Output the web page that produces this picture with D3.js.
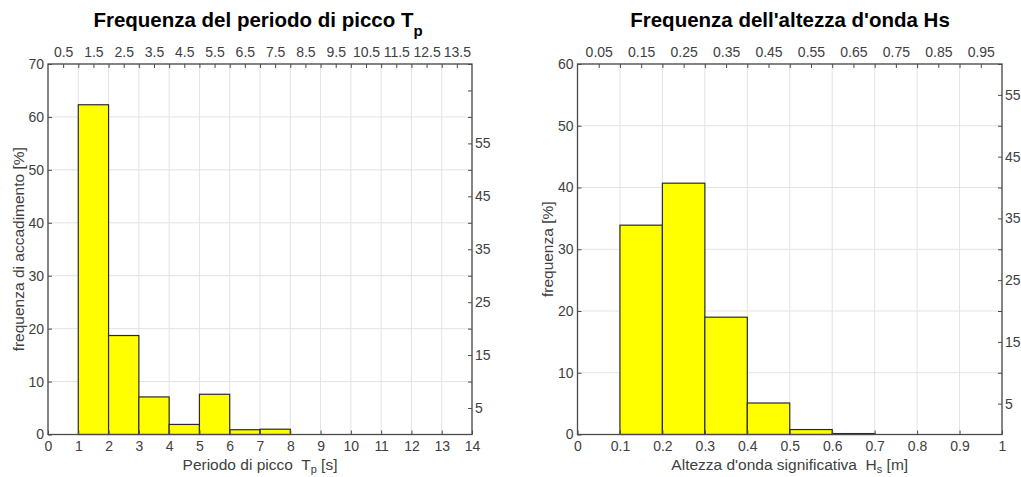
<!DOCTYPE html>
<html>
<head>
<meta charset="utf-8">
<title>Frequenze Tp e Hs</title>
<script src="https://d3js.org/d3.v7.min.js"></script>
<style>
  body { margin: 0; background: #fff; }
  text { font-family: Arial, "Liberation Sans", sans-serif; white-space: pre; }
  .tick text { fill: #404040; font-size: 14px; }
</style>
</head>
<body>
<script>
// ---- data ----
var tpEdges = [1, 2, 3, 4, 5, 6, 7, 8];
var tpFreq = [62.3, 18.7, 7.1, 1.9, 7.6, 0.9, 1.0];
var tpBottomTicks = d3.range(0, 15, 1);
var tpTopLabels = [0.5, 1.5, 2.5, 3.5, 4.5, 5.5, 6.5, 7.5, 8.5, 9.5, 10.5, 11.5, 12.5, 13.5];

var hsEdges = [0.1, 0.2, 0.3, 0.4, 0.5, 0.6, 0.7];
var hsFreq = [33.9, 40.7, 19.0, 5.1, 0.8, 0.15];
var hsBottomTicks = [0, 0.1, 0.2, 0.3, 0.4, 0.5, 0.6, 0.7, 0.8, 0.9, 1];
var hsTopLabels = [0.05, 0.15, 0.25, 0.35, 0.45, 0.55, 0.65, 0.75, 0.85, 0.95];

var rightLabels = [5, 15, 25, 35, 45, 55];

var W = 1021, H = 477;
var svg = d3.select("body").append("svg").attr("width", W).attr("height", H);

var axisCol = "#4a4a4a", gridCol = "#e3e3e3";

function panel(opt) {
  var x = d3.scaleLinear().domain(opt.xDomain).range([opt.left, opt.right]);
  var y = d3.scaleLinear().domain(opt.yDomain).range([opt.bottom, opt.top]);
  var g = svg.append("g");

  // grid
  g.selectAll(".gx").data(opt.xTicks).enter().append("line")
    .attr("x1", function(d) { return x(d); }).attr("x2", function(d) { return x(d); })
    .attr("y1", opt.top).attr("y2", opt.bottom)
    .attr("stroke", gridCol).attr("stroke-width", 1);
  g.selectAll(".gy").data(opt.yTicks).enter().append("line")
    .attr("y1", function(d) { return y(d); }).attr("y2", function(d) { return y(d); })
    .attr("x1", opt.left).attr("x2", opt.right)
    .attr("stroke", gridCol).attr("stroke-width", 1);

  // bars
  var bins = opt.freq.map(function(v, i) { return { x0: opt.edges[i], x1: opt.edges[i + 1], v: v }; });
  g.selectAll(".bar").data(bins).enter().append("rect")
    .attr("x", function(d) { return x(d.x0); })
    .attr("width", function(d) { return x(d.x1) - x(d.x0); })
    .attr("y", function(d) { return y(d.v); })
    .attr("height", function(d) { return y(0) - y(d.v); })
    .attr("fill", "#ffff00").attr("stroke", "#2a2a2a").attr("stroke-width", 1.2);

  // bottom axis
  var bx = g.append("g").attr("transform", "translate(0," + opt.bottom + ")")
    .call(d3.axisBottom(x).tickValues(opt.xTicks).tickFormat(opt.xFmt).tickSizeInner(-4).tickSizeOuter(0).tickPadding(7));
  // top axis: ticks every half step, labels only at the midpoints
  var tx = g.append("g").attr("transform", "translate(0," + opt.top + ")")
    .call(d3.axisTop(x).tickValues(opt.topTicks)
      .tickFormat(function(d) { return opt.topLabels.indexOf(+d3.format(".2f")(d)) >= 0 ? opt.topFmt(d) : ""; })
      .tickSizeInner(-4).tickSizeOuter(0).tickPadding(7));
  // left axis
  var ly = g.append("g").attr("transform", "translate(" + opt.left + ",0)")
    .call(d3.axisLeft(y).tickValues(opt.yTicks).tickSizeInner(-4).tickSizeOuter(0).tickPadding(4));
  // right axis
  var ry = g.append("g").attr("transform", "translate(" + opt.right + ",0)")
    .call(d3.axisRight(y).tickValues(d3.range(5, opt.yDomain[1] + 1, 5))
      .tickFormat(function(d) { return rightLabels.indexOf(d) >= 0 ? d : ""; })
      .tickSizeInner(-4).tickSizeOuter(0).tickPadding(6));

  [bx, tx, ly, ry].forEach(function(a) {
    a.select(".domain").remove();
    a.selectAll(".tick line").attr("stroke", axisCol);
  });
  ry.selectAll(".tick text").attr("x", 3);

  // box
  g.append("rect").attr("x", opt.left).attr("y", opt.top)
    .attr("width", opt.right - opt.left).attr("height", opt.bottom - opt.top)
    .attr("fill", "none").attr("stroke", axisCol).attr("stroke-width", 1.3);

  // title
  var cx = (opt.left + opt.right) / 2;
  var t = g.append("text").attr("x", opt.titleX).attr("y", 27).attr("text-anchor", "middle")
    .attr("font-size", 20.5).attr("font-weight", "bold").attr("fill", "#000");
  t.append("tspan").text(opt.title);
  if (opt.titleSub) t.append("tspan").attr("dy", 9).attr("font-size", 15).text(opt.titleSub);

  // x label
  var xl = g.append("text").attr("x", cx).attr("y", 470).attr("text-anchor", "middle")
    .attr("font-size", 15.5).attr("fill", "#404040");
  xl.append("tspan").text(opt.xLabel[0]);
  xl.append("tspan").attr("dy", 3).attr("font-size", 11).text(opt.xLabel[1]);
  xl.append("tspan").attr("dy", -3).text(opt.xLabel[2]);

  // y label
  g.append("text").attr("transform", "translate(" + opt.yLabelX + "," + ((opt.top + opt.bottom) / 2) + ") rotate(-90)")
    .attr("text-anchor", "middle").attr("font-size", 15.5).attr("fill", "#404040").text(opt.yLabel);
}

panel({
  left: 48, right: 472, top: 64, bottom: 434.5,
  xDomain: [0, 14], yDomain: [0, 70],
  xTicks: tpBottomTicks, yTicks: d3.range(0, 71, 10),
  topTicks: d3.range(0, 28).map(function(i) { return 0.5 + i * 0.5; }).filter(function(d) { return d < 14; }),
  topLabels: tpTopLabels, topFmt: d3.format(".1f"), xFmt: d3.format("d"),
  edges: tpEdges, freq: tpFreq,
  title: "Frequenza del periodo di picco T", titleSub: "p", titleX: 258,
  xLabel: ["Periodo di picco  T", "p", " [s]"],
  yLabel: "frequenza di accadimento [%]", yLabelX: 24
});

panel({
  left: 577.5, right: 1002, top: 64, bottom: 434.5,
  xDomain: [0, 1], yDomain: [0, 60],
  xTicks: hsBottomTicks, yTicks: d3.range(0, 61, 10),
  topTicks: d3.range(1, 20).map(function(i) { return i * 0.05; }),
  topLabels: hsTopLabels, topFmt: d3.format(".2f"), xFmt: function(d) { return d3.format("~g")(d); },
  edges: hsEdges, freq: hsFreq,
  title: "Frequenza dell'altezza d'onda Hs", titleSub: null, titleX: 790,
  xLabel: ["Altezza d'onda significativa  H", "s", " [m]"],
  yLabel: "frequenza [%]", yLabelX: 553
});
</script>
</body>
</html>
